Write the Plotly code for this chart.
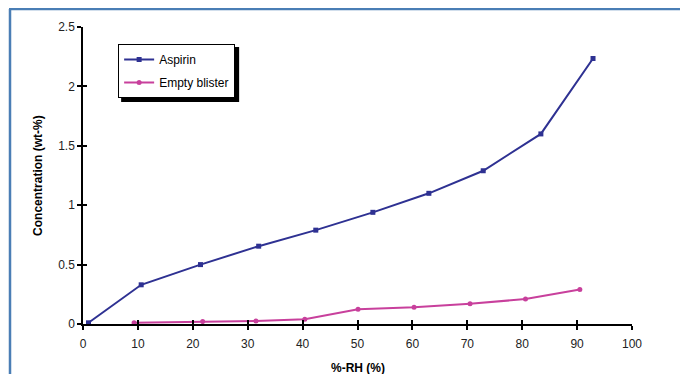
import plotly.graph_objects as go

aspirin_rh = [1, 10.6, 21.4, 32, 42.4, 52.8, 63, 72.9, 83.4, 92.9]
aspirin_conc = [0.01, 0.33, 0.50, 0.655, 0.79, 0.94, 1.10, 1.29, 1.60, 2.235]

blister_rh = [9.3, 21.8, 31.5, 40.4, 50.1, 60.3, 70.5, 80.6, 90.5]
blister_conc = [0.01, 0.02, 0.025, 0.04, 0.125, 0.14, 0.17, 0.21, 0.29]

x_ticks = [0, 10, 20, 30, 40, 50, 60, 70, 80, 90, 100]
y_ticks = [0, 0.5, 1, 1.5, 2, 2.5]
y_tick_labels = ["0", "0.5", "1", "1.5", "2", "2.5"]

FONT = "Liberation Sans, Arial, sans-serif"
NAVY = "#2E3192"
PINK = "#C8409C"

# page body adds an 8px offset; plot area in screen px: x 83..632, y 27..324
W, H = 672, 366
L, T, PW, PH = 75, 19, 549, 297

fig = go.Figure()
fig.add_trace(go.Scatter(
    x=aspirin_rh, y=aspirin_conc, name="Aspirin", mode="lines+markers",
    line=dict(color=NAVY, width=2), marker=dict(symbol="square", size=5, color=NAVY),
    legendgroup="a"))
fig.add_trace(go.Scatter(
    x=blister_rh, y=blister_conc, name="Empty blister", mode="lines+markers",
    line=dict(color=PINK, width=2), marker=dict(symbol="circle", size=5, color=PINK),
    legendgroup="b"))
# helper trace for inner ticks
fig.add_trace(go.Scatter(x=[None], y=[None], xaxis="x2", yaxis="y2",
                         showlegend=False, hoverinfo="skip"))

axis_common = dict(showgrid=False, zeroline=False, linecolor="black", linewidth=1.5,
                   tickcolor="black", tickwidth=1.5, ticklen=4, automargin=False,
                   tickfont=dict(family=FONT, size=12, color="#222"))

fig.update_layout(
    width=W, height=H,
    margin=dict(l=L, r=W - L - PW, t=T, b=H - T - PH),
    paper_bgcolor="white", plot_bgcolor="white",
    font=dict(family=FONT, color="black"),
    xaxis=dict(range=[0, 100], tickvals=x_ticks, ticks="outside", showline=True,
               ticklabelstandoff=4, **axis_common),
    yaxis=dict(range=[0, 2.5], tickvals=y_ticks, ticktext=y_tick_labels, ticks="outside",
               showline=True, **axis_common),
    xaxis2=dict(overlaying="x", matches="x", anchor="y", ticks="inside", tickvals=x_ticks,
                showticklabels=False, showline=False, showgrid=False, zeroline=False,
                tickcolor="black", tickwidth=1.5, ticklen=4, automargin=False),
    yaxis2=dict(overlaying="y", matches="y", anchor="x", ticks="inside", tickvals=y_ticks,
                showticklabels=False, showline=False, showgrid=False, zeroline=False,
                tickcolor="black", tickwidth=1.5, ticklen=4, automargin=False),
    legend=dict(x=0.064, y=0.943, xanchor="left", yanchor="top",
                bgcolor="white", bordercolor="black", borderwidth=1,
                font=dict(family=FONT, size=12, color="black"), tracegroupgap=4),
    showlegend=True,
)

# axis titles
fig.add_annotation(text="<b>%-RH (%)</b>", xref="paper", yref="paper", x=0.501, y=-0.148,
                   showarrow=False, xanchor="center", yanchor="middle",
                   font=dict(family=FONT, size=12, color="black"))
fig.add_annotation(text="<b>Concentration (wt-%)</b>", xref="paper", yref="paper",
                   x=-0.082, y=0.502, textangle=-90, showarrow=False,
                   xanchor="center", yanchor="middle",
                   font=dict(family=FONT, size=12, color="black"))

# legend drop shadow
fig.add_shape(type="rect", xref="paper", yref="paper",
              x0=0.064 + 3/PW, x1=0.064 + 121/PW, y0=0.943 - 58/PH, y1=0.943 - 3/PH,
              fillcolor="black", line=dict(width=0), layer="above")

# outer frame (blue, cut off at right and bottom); screen px -> paper
def px_x(v):
    return (v - 8 - L) / PW

def px_y(v):
    return (T + PH - (v - 8)) / PH

fig.add_shape(type="line", xref="paper", yref="paper",
              x0=px_x(9), x1=px_x(720), y0=px_y(9), y1=px_y(9),
              line=dict(color="#4A7EB5", width=2.5), layer="above")
fig.add_shape(type="line", xref="paper", yref="paper",
              x0=px_x(10), x1=px_x(10), y0=px_y(9), y1=px_y(420),
              line=dict(color="#4A7EB5", width=2.5), layer="above")

fig.write_html("out.html")
